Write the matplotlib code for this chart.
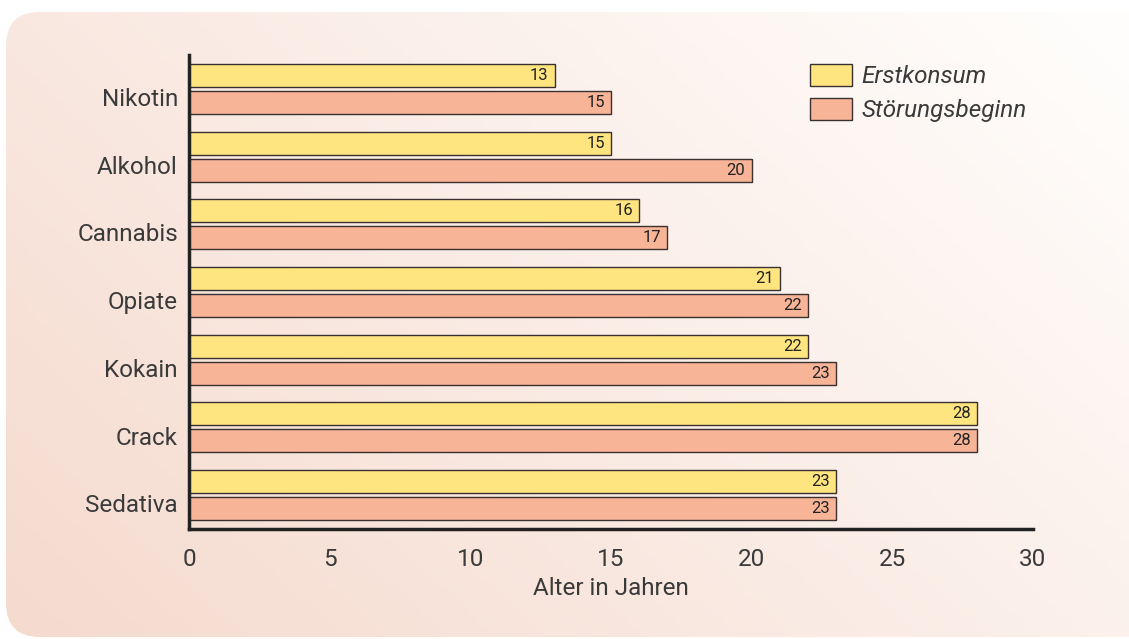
import matplotlib
matplotlib.use("Agg")
import matplotlib.pyplot as plt
import numpy as np
from matplotlib.patches import FancyBboxPatch, Patch

plt.rcParams['font.family'] = ['Roboto', 'DejaVu Sans']

categories = ["Nikotin", "Alkohol", "Cannabis", "Opiate", "Kokain", "Crack", "Sedativa"]
erstkonsum = [13, 15, 16, 21, 22, 28, 23]
stoerungsbeginn = [15, 20, 17, 22, 23, 28, 23]
series_names = ["Erstkonsum", "Störungsbeginn"]
xticks = [0, 5, 10, 15, 20, 25, 30]
xlabel = "Alter in Jahren"

c_yellow = "#FFE580"
c_salmon = "#F8B497"
edge = "#3a3030"
txt = "#3a3a3a"
FS = 17.5

fig = plt.figure(figsize=(11.29, 6.39), dpi=100)
fig.patch.set_facecolor("white")

# background rounded panel with gradient
bg = fig.add_axes([0, 0, 1, 1], zorder=0)
bg.set_xlim(0, 1)
bg.set_ylim(0, 1)
bg.axis("off")
nx, ny = 300, 170
xx, yy = np.meshgrid(np.linspace(0, 1, nx), np.linspace(0, 1, ny))
t = np.clip((xx * 0.62 + yy * 0.38) * 1.05, 0, 1)
c0 = np.array([245, 218, 206]) / 255.0
c1 = np.array([255, 253, 251]) / 255.0
img = c0[None, None, :] * (1 - t[..., None]) + c1[None, None, :] * t[..., None]
box = FancyBboxPatch((6 / 1129, 2 / 639), (1129 - 6) / 1129 + 0.03, (639 - 12 - 2) / 639,
                     boxstyle="round,pad=0,rounding_size=0.03",
                     transform=bg.transAxes, facecolor="none", edgecolor="none",
                     mutation_aspect=1129 / 639)
bg.add_patch(box)
im = bg.imshow(img, extent=[0, 1, 0, 1], origin="lower", aspect="auto")
im.set_clip_path(box)

ax = fig.add_axes([189 / 1129, 1 - 529 / 639, (1033 - 189) / 1129, (529 - 55) / 639], zorder=1)
ax.patch.set_alpha(0)

y = np.arange(len(categories))
h = 0.34
off = 0.2
b1 = ax.barh(y - off, erstkonsum, height=h, color=c_yellow, edgecolor=edge, linewidth=1.0)
b2 = ax.barh(y + off, stoerungsbeginn, height=h, color=c_salmon, edgecolor=edge, linewidth=1.0)

for bars, vals in ((b1, erstkonsum), (b2, stoerungsbeginn)):
    for bar, v in zip(bars, vals):
        ax.text(v - 0.22, bar.get_y() + bar.get_height() / 2, str(v), ha="right", va="center",
                fontsize=12, color="#222222")

ax.set_ylim(len(categories) - 0.5, -0.5)
ax.set_xlim(0, 30)
ax.set_yticks(y + 0.12)
ax.set_yticklabels(categories, fontsize=FS, color=txt)
ax.set_xticks(xticks)
ax.set_xticklabels([str(v) for v in xticks], fontsize=FS, color=txt)
ax.tick_params(axis="both", length=0)
ax.tick_params(axis="y", pad=8)
ax.tick_params(axis="x", pad=14)
ax.set_xlabel(xlabel, fontsize=FS, color=txt, labelpad=4)
for s in ("top", "right"):
    ax.spines[s].set_visible(False)
for s in ("left", "bottom"):
    ax.spines[s].set_linewidth(2.5)
    ax.spines[s].set_color("#222222")

handles = [Patch(facecolor=c_yellow, edgecolor=edge, linewidth=1.0),
           Patch(facecolor=c_salmon, edgecolor=edge, linewidth=1.0)]
leg = ax.legend(handles, series_names, loc="upper left", bbox_to_anchor=(0.736, 0.981),
                frameon=False, prop={"style": "italic", "size": FS},
                borderpad=0, borderaxespad=0,
                handlelength=1.7, handleheight=1.0, handletextpad=0.4, labelspacing=0.4)
for t_ in leg.get_texts():
    t_.set_color(txt)

fig.savefig("out.png", dpi=100)
